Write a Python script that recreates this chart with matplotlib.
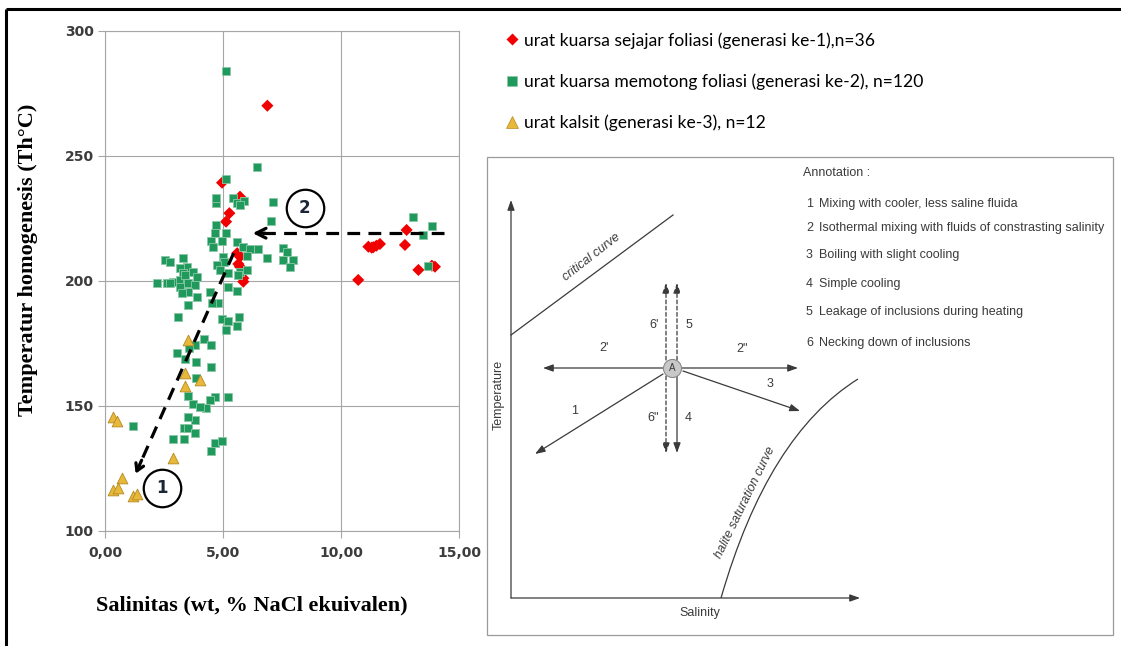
"""Salinity vs homogenisation temperature with fluid evolution sketch."""

import matplotlib.pyplot as plt
from matplotlib.lines import Line2D
from matplotlib.patches import Rectangle, PathPatch
from matplotlib.path import Path

# generasi ke-1 (urat kuarsa sejajar foliasi)
red_sal = [6.88, 4.96, 5.79, 5.72, 5.27, 5.13, 5.60, 5.72, 5.65, 5.72, 5.86, 5.86,
           10.73, 11.16, 11.30, 11.37, 11.50, 11.65, 12.71, 12.78, 13.28, 13.98, 13.85]
red_th = [270.0, 239.2, 232.3, 233.6, 227.0, 223.6, 211.0, 209.6, 206.7, 205.6, 201.0, 199.6,
          200.3, 213.6, 213.2, 213.4, 214.0, 214.7, 214.3, 220.3, 204.3, 205.6, 206.0]

# generasi ke-2 (urat kuarsa memotong foliasi)
green_sal = [5.11, 6.43, 5.11, 4.70, 4.72, 5.41, 5.58, 5.89, 5.72, 7.13, 7.03, 4.70, 4.66, 5.11,
             4.48, 4.94, 4.59, 5.58, 5.86, 6.14, 6.50, 6.00, 6.85, 7.56, 7.70, 7.56, 7.95, 7.84,
             5.01, 5.04, 4.73, 4.87, 5.22, 5.72, 6.00, 2.54, 2.75, 3.32, 3.46, 3.18, 3.74, 3.32,
             3.88, 2.19, 2.61, 2.89, 3.18, 3.46, 2.75, 3.39, 3.18, 3.53, 3.81, 3.53, 3.88, 3.25,
             3.53, 3.08, 4.45, 4.80, 4.52, 5.22, 5.58, 5.65, 4.94, 5.22, 5.69, 5.58, 5.11, 4.19,
             4.48, 3.83, 3.56, 3.06, 3.39, 3.84, 4.48, 3.86, 3.53, 3.74, 4.28, 4.66, 5.22, 4.45,
             4.03, 3.81, 3.53, 3.35, 3.53, 3.81, 2.89, 3.35, 4.66, 4.94, 4.48, 1.20,
             13.07, 13.84, 13.49, 13.70]
green_th = [283.9, 245.6, 240.7, 231.2, 233.0, 233.0, 231.0, 232.0, 230.3, 231.6, 224.0, 222.3, 219.2, 219.0,
            215.9, 215.9, 213.4, 215.6, 213.6, 212.6, 212.6, 209.9, 209.0, 213.0, 211.6, 208.3, 208.3, 205.4,
            209.6, 207.6, 206.3, 204.3, 203.0, 203.6, 204.3, 208.3, 207.6, 209.0, 205.6, 205.0, 203.6, 203.0,
            201.6, 199.0, 199.0, 199.6, 200.3, 199.0, 199.0, 202.3, 197.6, 199.0, 198.3, 195.6, 193.6, 194.9,
            190.3, 185.6, 195.6, 191.0, 191.0, 197.4, 196.0, 202.3, 184.6, 184.0, 185.4, 181.9, 180.3, 176.7,
            174.3, 174.3, 172.9, 171.0, 168.7, 167.3, 165.6, 161.0, 153.9, 150.7, 149.0, 153.3, 153.3, 152.3,
            149.6, 144.3, 145.4, 141.0, 141.0, 139.0, 136.5, 136.5, 135.2, 136.0, 132.0, 141.9,
            225.3, 222.0, 218.3, 205.9]

# generasi ke-3 (urat kalsit)
yellow_sal = [0.35, 0.52, 2.90, 0.72, 0.35, 0.56, 1.20, 1.37, 3.53, 3.39, 4.03, 3.39]
yellow_th = [145.5, 144.0, 129.0, 121.0, 116.3, 117.0, 114.0, 114.5, 176.3, 163.0, 160.3, 158.0]

x_ticks = [0, 5, 10, 15]
x_tick_labels = ["0,00", "5,00", "10,00", "15,00"]
y_ticks = [100, 150, 200, 250, 300]

legend_labels = [
    "urat kuarsa sejajar foliasi (generasi ke-1),n=36",
    "urat kuarsa memotong foliasi (generasi ke-2), n=120",
    "urat kalsit (generasi ke-3), n=12",
]

annotation_items = [
    ("1", "Mixing with cooler, less saline fluida"),
    ("2", "Isothermal mixing with fluids of constrasting salinity"),
    ("3", "Boiling with slight cooling"),
    ("4", "Simple cooling"),
    ("5", "Leakage of inclusions during heating"),
    ("6", "Necking down of inclusions"),
]

RED = "#f00000"
GREEN = "#1f9a5c"
GREEN_EDGE = "#8cc7a6"
YELLOW = "#e8b83a"
YELLOW_EDGE = "#b48a22"
GRID = "#a6a6a6"
INK = "#3a3a3a"
SKETCH_FONT = ["Liberation Sans", "DejaVu Sans"]
SKETCH_SIZE = 9

W, H = 1121, 646
fig = plt.figure(figsize=(W / 100, H / 100), dpi=100)

# whole-figure canvas in pixel coordinates (frame + sketch)
canvas = fig.add_axes([0, 0, 1, 1])
canvas.set_xlim(0, W)
canvas.set_ylim(H, 0)
canvas.axis("off")
canvas.plot([6, 6], [H, 9], color="black", lw=2.2, solid_capstyle="butt")
canvas.plot([6, W], [9, 9], color="black", lw=2.2, solid_capstyle="butt")


def fx(px):
    return px / W


def fy(py):
    return 1 - py / H


# ---- main scatter ----
ax = fig.add_axes([fx(105), fy(530.7), (459 - 105) / W, 500 / H])
ax.set_xlim(0, 15)
ax.set_ylim(100, 300)
ax.set_xticks(x_ticks)
ax.set_xticklabels(x_tick_labels)
ax.set_yticks(y_ticks)
ax.grid(True, color=GRID, lw=0.8)
ax.set_axisbelow(True)
for sp in ax.spines.values():
    sp.set_color(GRID)
    sp.set_linewidth(0.8)
ax.tick_params(colors=GRID, length=5, width=0.8, labelsize=10, labelcolor="#3c3c3c")
ax.tick_params(axis="y", pad=3)
ax.tick_params(axis="x", pad=6)
for lab in ax.get_xticklabels() + ax.get_yticklabels():
    lab.set_fontweight("bold")

ax.scatter(red_sal, red_th, marker="D", s=38, color=RED, edgecolors="none", zorder=3)
ax.scatter(green_sal, green_th, marker="s", s=38, color=GREEN, edgecolors=GREEN_EDGE, linewidths=0.6, zorder=4)
ax.scatter(yellow_sal, yellow_th, marker="^", s=60, color=YELLOW, edgecolors=YELLOW_EDGE, linewidths=0.6, zorder=5)

ax.set_xlabel("Salinitas (wt, % NaCl ekuivalen)", family="Liberation Serif", fontweight="bold", fontsize=16)
ax.xaxis.set_label_coords((252 - 105) / 354, -(605 - 530.7) / 500, transform=ax.transAxes)
ax.xaxis.label.set_va("center")
ax.set_ylabel("Temperatur homogenesis (Th\u00b0C)", family="Liberation Serif", fontweight="bold", fontsize=16)
ax.yaxis.set_label_coords(-(105 - 28) / 354, (530.7 - 260) / 500, transform=ax.transAxes)
ax.yaxis.label.set_va("center")

# dashed trend arrows
dash = (0, (4, 2.6))
ax.plot([14.35, 6.6], [219, 219], color="black", lw=2.3, ls=dash, zorder=6)
ax.annotate("", xy=(6.14, 219), xytext=(6.9, 219),
            arrowprops=dict(arrowstyle="->,head_length=0.7,head_width=0.35", lw=2.3, color="black"), zorder=6)
ax.plot([5.45, 1.45], [211, 126], color="black", lw=2.3, ls=dash, zorder=6)
ax.annotate("", xy=(1.25, 121.8), xytext=(1.6, 129.2),
            arrowprops=dict(arrowstyle="->,head_length=0.5,head_width=0.3", lw=2.3, color="black"), zorder=6)

for cx, cy, lab in [(8.47, 229, "2"), (2.40, 117, "1")]:
    ax.plot(cx, cy, marker="o", ms=27, mfc="white", mec="black", mew=1.6, zorder=7, clip_on=False)
    ax.text(cx, cy, lab, ha="center", va="center", fontsize=12, fontweight="bold", color="#1c2536", zorder=8)

# ---- legend ----
handles = [
    Line2D([], [], ls="none", marker="D", ms=6.5, color=RED, mec="none"),
    Line2D([], [], ls="none", marker="s", ms=6.5, color=GREEN, mec=GREEN_EDGE, mew=0.5),
    Line2D([], [], ls="none", marker="^", ms=8, color=YELLOW, mec=YELLOW_EDGE, mew=0.5),
]
fig.legend(handles, legend_labels, loc="upper left", bbox_to_anchor=(fx(507), fy(32)),
           frameon=False, prop={"family": "Lato", "size": 12.6}, handlelength=0.6,
           handletextpad=0.35, labelspacing=1.4, borderaxespad=0, borderpad=0)

# ---- fluid evolution sketch ----
canvas.add_patch(Rectangle((487, 157), 626, 478, fill=False, ec="#9a9a9a", lw=0.9))


def arrow(x0, y0, x1, y1, ls="-"):
    canvas.annotate("", xy=(x1, y1), xytext=(x0, y0),
                    arrowprops=dict(arrowstyle="-|>,head_length=0.5,head_width=0.18", lw=0.9,
                                    color=INK, linestyle=ls, shrinkA=0, shrinkB=0, mutation_scale=12))


def sketch_text(x, y, s, **kw):
    kw.setdefault("ha", "center")
    canvas.text(x, y, s, va="center", family=SKETCH_FONT, fontsize=SKETCH_SIZE, color=INK, **kw)


arrow(511, 598, 511, 200)
arrow(511, 598, 860, 598)
sketch_text(499, 395, "Temperature", rotation=90)
sketch_text(700, 613, "Salinity")

canvas.plot([511, 673], [335, 215], color=INK, lw=0.9)
sketch_text(592, 257, "critical curve", rotation=38, style="italic")

halite = Path([(721, 598), (768, 435), (858, 379)], [Path.MOVETO, Path.CURVE3, Path.CURVE3])
canvas.add_patch(PathPatch(halite, fill=False, ec=INK, lw=0.9))
sketch_text(745, 503, "halite saturation curve", rotation=64, style="italic")

# process arrows from point A
arrow(672, 368, 543, 368)
arrow(672, 368, 798, 368)
arrow(683, 371, 800, 411)
arrow(663, 374, 535, 454)
arrow(666, 360, 666, 283, ls=(0, (3, 2)))
arrow(677, 360, 677, 283, ls=(0, (3, 2)))
arrow(666, 376, 666, 453, ls=(0, (3, 2)))
arrow(677, 376, 677, 453)
canvas.plot(672, 368, marker="o", ms=13, mfc="#c8c8c8", mec="#8a8a8a", mew=0.8, zorder=5)
canvas.text(672, 368, "A", ha="center", va="center", family=SKETCH_FONT, fontsize=7, color=INK, zorder=6)

for tx, ty, lab in [(654, 325, "6'"), (689, 325, "5"), (604, 348, "2'"), (742, 349, '2"'),
                    (770, 384, "3"), (575, 411, "1"), (653, 418, '6"'), (688, 418, "4")]:
    sketch_text(tx, ty, lab)

sketch_text(803, 173, "Annotation :", ha="left")
for (num, desc), ty in zip(annotation_items, [204, 228, 255, 284, 312, 343]):
    sketch_text(806, ty, num, ha="left")
    sketch_text(819, ty, desc, ha="left")

fig.savefig("out.png", dpi=100)
